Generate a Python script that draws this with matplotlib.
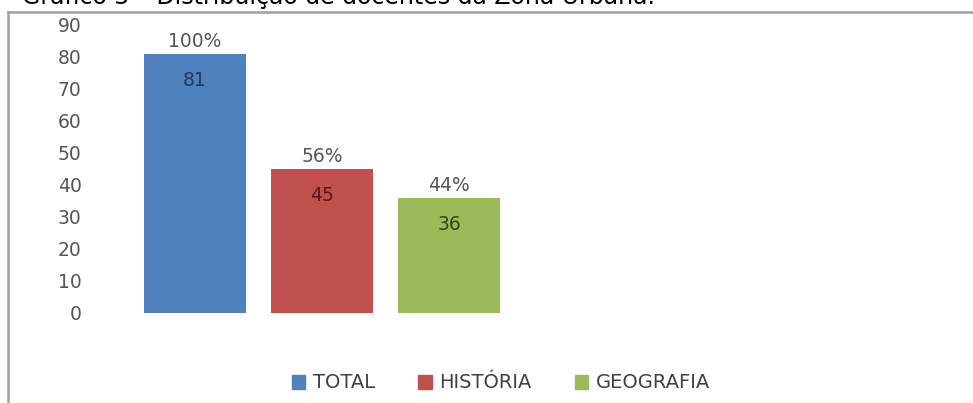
import matplotlib
matplotlib.use("Agg")
import matplotlib.pyplot as plt
from matplotlib.lines import Line2D

plt.rcParams["font.family"] = ["DejaVu Sans"]

# --- Data ---
categorias = ["TOTAL", "HISTÓRIA", "GEOGRAFIA"]
docentes = [81, 45, 36]
percentuais = ["100%", "56%", "44%"]
cores = ["#4f81bd", "#c0504d", "#9bbb59"]
cores_valor = ["#1f3a63", "#5c1514", "#2f4514"]
yticks = [0, 10, 20, 30, 40, 50, 60, 70, 80, 90]

W, H = 973, 403
fig = plt.figure(figsize=(W / 100, H / 100), dpi=100)
fig.patch.set_facecolor("white")

# chart area: y=0 at 313px, y=90 at 25px (from top)
ax = fig.add_axes([90 / W, (H - 313) / H, (560 - 90) / W, (313 - 25) / H])
xpos = list(range(len(categorias)))
bars = ax.bar(xpos, docentes, width=0.8, color=cores, zorder=2)

for b, v, p, cv in zip(bars, docentes, percentuais, cores_valor):
    cx = b.get_x() + b.get_width() / 2
    ax.text(cx, v + 3.9, p, ha="center", va="center", fontsize=13.5,
            color="#555555")
    ax.text(cx, v - 8.2, str(v), ha="center", va="center", fontsize=13.5,
            color=cv)

ax.set_xlim((90 - 195) / 127, (560 - 195) / 127)
ax.set_ylim(0, 90)
ax.set_yticks(yticks)
ax.set_yticklabels([str(t) for t in yticks], fontsize=13.5, color="#555555")
ax.tick_params(axis="y", length=0, pad=6)
ax.set_xticks([])
for s in ax.spines.values():
    s.set_visible(False)

handles = [plt.Rectangle((0, 0), 1, 1, color=c) for c in cores]
fig.legend(handles, categorias, loc="center", ncol=3,
           bbox_to_anchor=(501 / W, (H - 383) / H), frameon=False,
           fontsize=14, labelcolor="#404040", handlelength=0.7,
           handleheight=0.7, handletextpad=0.4, columnspacing=2.2)

# outer chart frame (top and left edges)
fig.add_artist(Line2D([8 / W, 8 / W], [0, (H - 12) / H], color="#a0a0a0",
                      lw=1.8, transform=fig.transFigure))
fig.add_artist(Line2D([8 / W, 1], [(H - 12) / H, (H - 12) / H],
                      color="#a0a0a0", lw=1.8, transform=fig.transFigure))

# caption above the frame, mostly cut off by the page edge
fig.text(22 / W, (H - 4) / H,
         "Gráfico 5 – Distribuição de docentes da Zona Urbana.",
         ha="left", va="baseline", fontsize=17, color="black")

fig.savefig("out.png", dpi=100, facecolor="white")
